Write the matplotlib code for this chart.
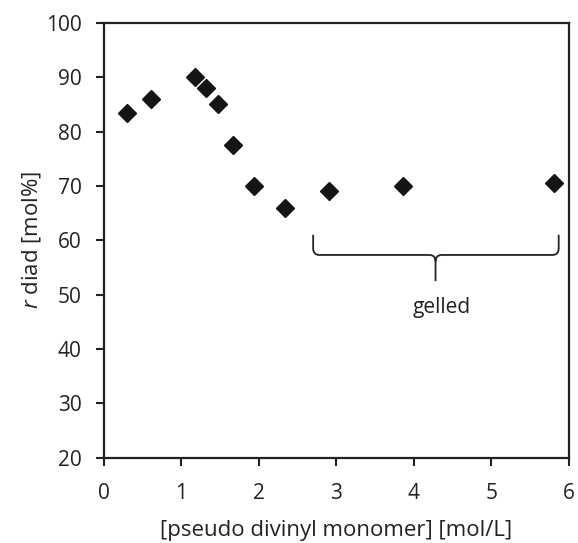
import matplotlib
matplotlib.use("Agg")
import matplotlib.pyplot as plt
from matplotlib.path import Path
from matplotlib.patches import PathPatch

plt.rcParams['font.family'] = ['Open Sans', 'DejaVu Sans']
plt.rcParams['mathtext.fontset'] = 'custom'
plt.rcParams['mathtext.it'] = 'Open Sans:italic'
plt.rcParams['mathtext.rm'] = 'Open Sans'

# monomer concentration vs r diad
conc = [0.30, 0.60, 1.17, 1.31, 1.47, 1.67, 1.94, 2.33, 2.90, 3.86, 5.81]
r_diad = [83.5, 86.0, 90.0, 88.0, 85.0, 77.5, 70.0, 66.0, 69.0, 70.0, 70.5]

x_ticks = [0, 1, 2, 3, 4, 5, 6]
y_ticks = [20, 30, 40, 50, 60, 70, 80, 90, 100]

fig = plt.figure(figsize=(5.78, 5.43), dpi=100)
ax = fig.add_axes([0.18, 0.157, 0.804, 0.801])

ax.plot(conc, r_diad, linestyle='none', marker='D', markersize=9.5, color='#151515')

ax.set_xlim(0, 6)
ax.set_ylim(20, 100)
ax.set_xticks(x_ticks)
ax.set_yticks(y_ticks)
ax.tick_params(direction='out', length=6, width=1.5, labelsize=15, color='#222222', labelcolor='#222222')
ax.tick_params(axis='x', pad=12)
ax.tick_params(axis='y', pad=10)
for s in ax.spines.values():
    s.set_linewidth(1.6)
    s.set_color('#222222')

ax.set_xlabel("[pseudo divinyl monomer] [mol/L]", fontsize=16, color='#222222', labelpad=12)
ax.set_ylabel("$\\it{r}$ diad [mol%]", fontsize=16, color='#222222', labelpad=2)

# curly bracket over gelled samples
x0, x1, xm = 2.70, 5.87, 4.28
yt, yb, ytip = 61.0, 57.3, 52.5
dx = 0.08
verts = [
    (x0, yt), (x0, yb + 1.2), (x0, yb), (x0 + dx, yb),
    (xm - dx, yb), (xm, yb), (xm, yb - 1.2), (xm, ytip),
    (xm, yb - 1.2), (xm, yb), (xm + dx, yb),
    (x1 - dx, yb), (x1, yb), (x1, yb + 1.2), (x1, yt),
]
codes = [Path.MOVETO, Path.LINETO, Path.CURVE3, Path.CURVE3,
         Path.LINETO, Path.CURVE3, Path.CURVE3, Path.LINETO,
         Path.MOVETO, Path.CURVE3, Path.CURVE3,
         Path.LINETO, Path.CURVE3, Path.CURVE3, Path.LINETO]
ax.add_patch(PathPatch(Path(verts, codes), fill=False, lw=1.3, edgecolor='#222222'))
ax.text(4.36, 47.6, "gelled", fontsize=15, color='#222222', ha='center', va='center')

fig.savefig("out.png", dpi=100)
